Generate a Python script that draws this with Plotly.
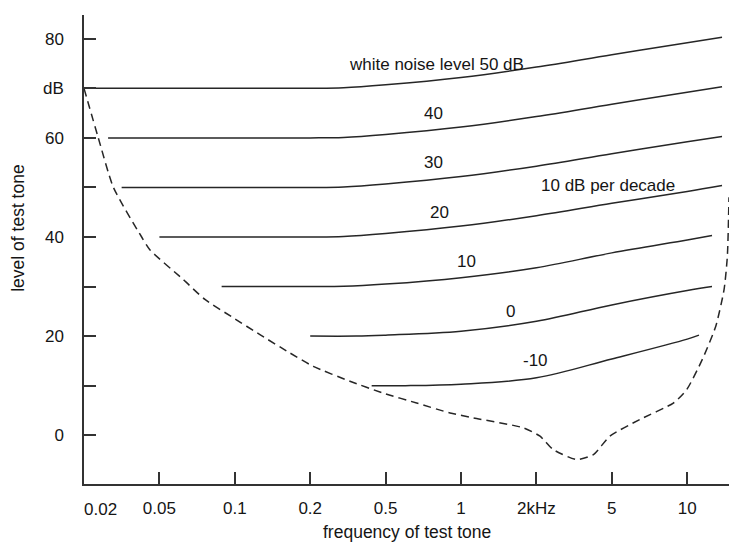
import numpy as np
import plotly.graph_objects as go

# ---------------- data ----------------
# frequency axis (kHz): evenly spaced ticks as in the reference
AXIS_F = [0.02, 0.05, 0.1, 0.2, 0.5, 1, 2, 5, 10, 20]
TICK_F = [0.02, 0.05, 0.1, 0.2, 0.5, 1, 2, 5, 10]
TICK_TEXT = ["", "0.05", "0.1", "0.2", "0.5", "1", "2kHz", "5", "10"]
Y_TICKS = [0, 10, 20, 30, 40, 50, 60, 70, 80]
Y_TEXT = ["0", "", "20", "", "40", "", "60", "dB", "80"]

# masked thresholds in white noise (freq in kHz, level in dB)
f_wn50 = [0.0231, 0.1, 0.2, 0.3, 0.5, 1, 2, 5, 10, 13.77]
L_wn50 = [70, 70, 70, 70.1, 70.7, 72.2, 74.3, 76.8, 79.2, 80.3]
f_wn40 = [0.0268, 0.1, 0.2, 0.3, 0.5, 1, 2, 5, 10, 13.77]
L_wn40 = [60, 60, 60, 60.1, 60.7, 62.2, 64.3, 66.8, 69.2, 70.3]
f_wn30 = [0.0316, 0.1, 0.2, 0.3, 0.5, 1, 2, 5, 10, 13.77]
L_wn30 = [50, 50, 50, 50.1, 50.7, 52.2, 54.3, 56.8, 59.2, 60.3]
f_wn20 = [0.05, 0.1, 0.2, 0.3, 0.5, 1, 2, 5, 10, 13.77]
L_wn20 = [40, 40, 40, 40.1, 40.7, 42.2, 44.3, 46.8, 49.2, 50.4]
f_wn10 = [0.0886, 0.2, 0.3, 0.5, 1, 2, 5, 10, 12.56]
L_wn10 = [30, 30, 30.05, 30.5, 31.8, 33.8, 36.8, 39.4, 40.3]
f_wn0 = [0.2, 0.35, 0.5, 1, 2, 5, 10, 12.56]
L_wn0 = [20, 20, 20.2, 21.0, 23.0, 26.3, 29.2, 30.0]
f_wnm10 = [0.422, 0.6, 1, 2, 5, 10, 11.14]
L_wnm10 = [10, 10, 10.3, 11.6, 15.4, 19.4, 20.2]

# threshold in quiet (dashed)
f_quiet = [0.02, 0.0238, 0.0286, 0.0403, 0.0446, 0.0623, 0.0760, 0.0986, 0.126,
           0.166, 0.2076, 0.324, 0.486, 0.665, 0.904, 1.12, 1.773, 2.09, 2.456,
           3.26, 4.0, 4.88, 6.48, 8.80, 9.95, 11.49, 13.0, 14.03, 14.46, 14.68]
L_quiet = [70, 60, 50, 40, 37.4, 31.4, 27.4, 23.7, 20.3,
           16.6, 13.9, 10.9, 8.5, 6.5, 4.5, 3.5, 1.5, -0.2, -2.9,
           -4.9, -3.9, -0.2, 3.2, 6.5, 9.2, 15.3, 22, 29.4, 36.1, 48]

LABEL_TEXT = ["white noise level 50 dB", "40", "30", "10 dB per decade",
              "20", "10", "0", "-10"]
LABEL_F = [0.80, 0.775, 0.775, 4.78, 0.824, 1.054, 1.58, 1.99]
LABEL_L = [74.9, 65.0, 55.0, 50.3, 45.0, 35.1, 25.0, 15.1]


def pos(f):
    """position of a frequency on the evenly spaced tick axis"""
    return np.interp(np.log10(np.asarray(f, dtype=float)), np.log10(AXIS_F),
                     np.arange(len(AXIS_F)))


FONT = "Liberation Sans, Arial, sans-serif"
INK = "#151515"

fig = go.Figure()

solid = [(f_wn50, L_wn50), (f_wn40, L_wn40), (f_wn30, L_wn30), (f_wn20, L_wn20),
         (f_wn10, L_wn10), (f_wn0, L_wn0), (f_wnm10, L_wnm10)]
for fx, Ly in solid:
    fig.add_trace(go.Scatter(x=pos(fx), y=Ly, mode="lines",
                             line=dict(color="#262626", width=1.5, shape="spline", smoothing=1.0),
                             showlegend=False, hoverinfo="skip"))

fig.add_trace(go.Scatter(x=pos(f_quiet), y=L_quiet, mode="lines",
                         line=dict(color="#262626", width=1.5, dash="8px,5px",
                                   shape="spline", smoothing=0.6),
                         showlegend=False, hoverinfo="skip"))

for t, fx, ly in zip(LABEL_TEXT, LABEL_F, LABEL_L):
    fig.add_annotation(x=float(pos(fx)), y=ly, text=t, showarrow=False,
                       xanchor="center", yanchor="middle",
                       font=dict(family=FONT, size=17, color=INK))

# "0.02" label (sits slightly right of the axis corner in the reference)
fig.add_annotation(xref="paper", yref="paper", x=(100 - 84) / 645, y=-0.054,
                   text="0.02", showarrow=False, xanchor="center", yanchor="middle",
                   font=dict(family=FONT, size=17, color=INK))
# axis titles
fig.add_annotation(xref="paper", yref="paper", x=(407 - 84) / 645, y=-(533 - 484.5) / 469.5,
                   text="frequency of test tone", showarrow=False,
                   xanchor="center", yanchor="middle",
                   font=dict(family=FONT, size=17.5, color=INK))
fig.add_annotation(xref="paper", yref="paper", x=(18 - 84) / 645, y=(484.5 - 229) / 469.5,
                   text="level of test tone", showarrow=False, textangle=-90,
                   xanchor="center", yanchor="middle",
                   font=dict(family=FONT, size=17.5, color=INK))

fig.update_layout(
    width=729, height=543,
    margin=dict(l=84, r=0, t=15, b=58.5),
    paper_bgcolor="white", plot_bgcolor="white",
    font=dict(family=FONT, size=17, color=INK),
    xaxis=dict(range=[0, 8.554], tickmode="array",
               tickvals=list(pos(TICK_F)), ticktext=TICK_TEXT,
               ticks="inside", ticklen=12, tickwidth=1.5, tickcolor="#333",
               showline=True, linecolor="#333", linewidth=1.5,
               showgrid=False, zeroline=False, ticklabelstandoff=8,
               tickfont=dict(family=FONT, size=17, color=INK)),
    yaxis=dict(range=[-9.84, 84.8], tickmode="array",
               tickvals=Y_TICKS, ticktext=Y_TEXT,
               ticks="inside", ticklen=12, tickwidth=1.5, tickcolor="#333",
               showline=True, linecolor="#333", linewidth=1.5,
               showgrid=False, zeroline=False, ticklabelstandoff=15,
               tickfont=dict(family=FONT, size=17, color=INK)),
)

fig.write_html("out.html")
